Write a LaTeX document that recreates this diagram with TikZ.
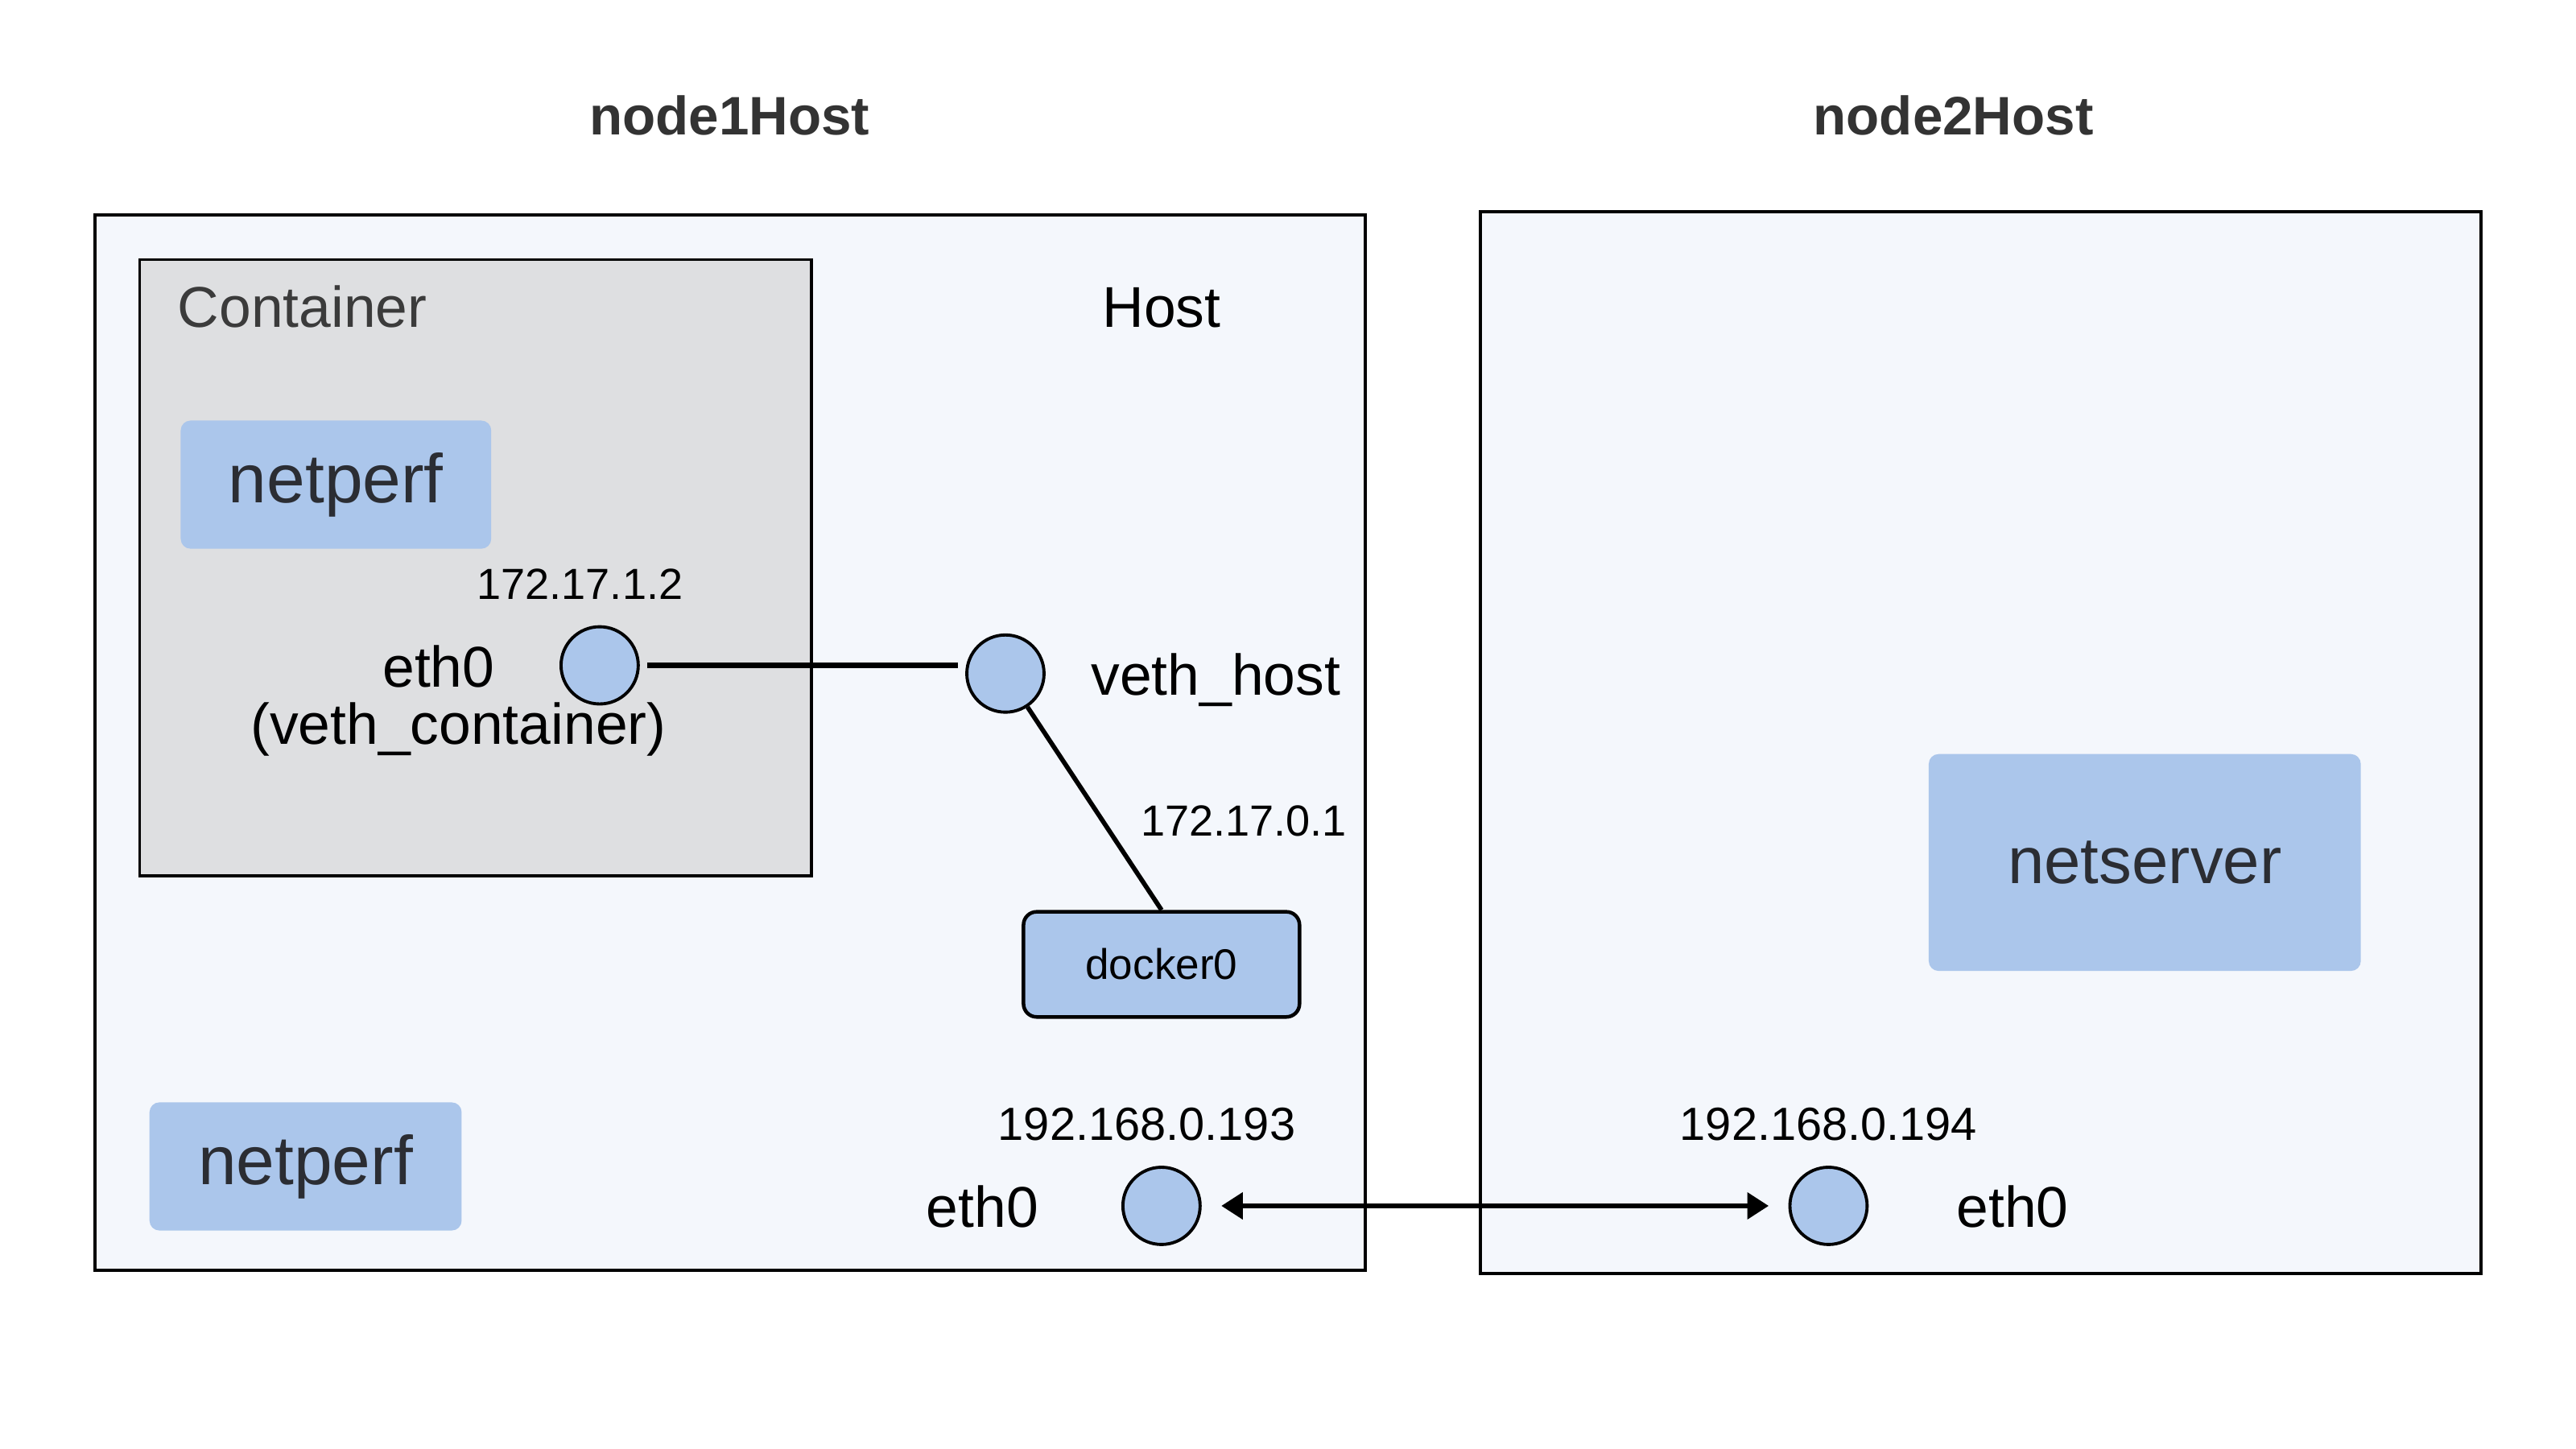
\documentclass[tikz,border=0pt]{standalone}
\usepackage{fontspec}
\setmainfont{Liberation Sans}
\usetikzlibrary{arrows.meta}
\definecolor{hostfill}{HTML}{F4F7FC}
\definecolor{contfill}{HTML}{DEDFE1}
\definecolor{blueA}{HTML}{ABC6EB}
\definecolor{txtdark}{HTML}{2B2D33}
\definecolor{titlegray}{HTML}{333333}
\definecolor{labgray}{HTML}{3B3B3B}
\begin{document}
\begin{tikzpicture}[x=1pt,y=-1pt,
  hostbox/.style={draw=black, line width=1.9pt, fill=hostfill, inner sep=0pt},
  contbox/.style={draw=black, line width=1.9pt, fill=contfill, inner sep=0pt},
  appbox/.style={fill=blueA, rounded corners=6pt, inner sep=0pt, text=txtdark},
  dockbox/.style={draw=black, line width=2.2pt, fill=blueA, rounded corners=8pt, inner sep=0pt},
  iface/.style={circle, draw=black, line width=1.9pt, fill=blueA, minimum size=47pt, inner sep=0pt},
  title/.style={font=\fontsize{33}{38}\bfseries\selectfont, text=titlegray, inner sep=0pt, anchor=base},
  lbl/.style={font=\fontsize{35}{40}\selectfont, inner sep=0pt, anchor=base},
  iplbl/.style={font=\fontsize{26.5}{30}\selectfont, inner sep=0pt, anchor=base},
  iplblb/.style={font=\fontsize{28.3}{32}\selectfont, inner sep=0pt, anchor=base},
  conn/.style={draw=black, line width=3.2pt},
  diag/.style={draw=black, line width=2.8pt},
  link/.style={draw=black, line width=2.6pt, {Triangle[length=13pt,width=16pt]}-{Triangle[length=13pt,width=16pt]}}
]
\useasboundingbox[fill=white] (0,0) rectangle (1568,882);

% titles
\node[title] (t1) at (444,82) {node1Host};
\node[title] (t2) at (1189,82) {node2Host};

% host boxes
\node[hostbox, minimum width=773pt, minimum height=642pt] (host1) at (444.5,452) {};
\node[hostbox, minimum width=609pt, minimum height=646pt] (host2) at (1205.5,452) {};

% container
\node[contbox, minimum width=409pt, minimum height=375pt] (cont) at (289.5,345.5) {};
\node[lbl, text=labgray, anchor=base west] (contlbl) at (108,199) {Container};
\node[lbl] (hostlbl) at (707,199) {Host};

% apps
\node[appbox, minimum width=189pt, minimum height=78pt, font=\fontsize{42}{48}\selectfont] (np1) at (204.5,295) {netperf};
\node[appbox, minimum width=190pt, minimum height=78pt, font=\fontsize{42}{48}\selectfont] (np2) at (186,710) {netperf};
\node[appbox, minimum width=263pt, minimum height=132pt, font=\fontsize{40}{46}\selectfont] (ns) at (1305.5,525) {netserver};

% interfaces
\node[iface] (c1) at (365,405) {};
\node[iface] (vh) at (612,410) {};
\node[iface] (e1) at (707,734) {};
\node[iface] (e2) at (1113,734) {};

\node[dockbox, minimum width=168pt, minimum height=64pt, font=\fontsize{26}{30}\selectfont] (dock) at (707,587) {docker0};

% labels
\node[iplbl] (ip1) at (353,365) {172.17.1.2};
\node[lbl] (eth0c) at (267,418) {eth0};
\node[lbl] (vethc) at (279,453) {(veth\_container)};
\node[lbl, anchor=base west] (vethh) at (664,423) {veth\_host};
\node[iplbl] (ip2) at (757,509) {172.17.0.1};
\node[iplblb] (ip3) at (698,694) {192.168.0.193};
\node[lbl] (eth0a) at (598,747) {eth0};
\node[iplblb] (ip4) at (1113,694) {192.168.0.194};
\node[lbl] (eth0b) at (1225,747) {eth0};

% connectors
\draw[conn, shorten <=4.5pt, shorten >=4.5pt] (c1.east) -- (c1 -| vh.west);
\draw[diag] (vh) -- (dock.north);
\draw[link, shorten <=12pt, shorten >=12pt] (e1) -- (e2);
\end{tikzpicture}
\end{document}
